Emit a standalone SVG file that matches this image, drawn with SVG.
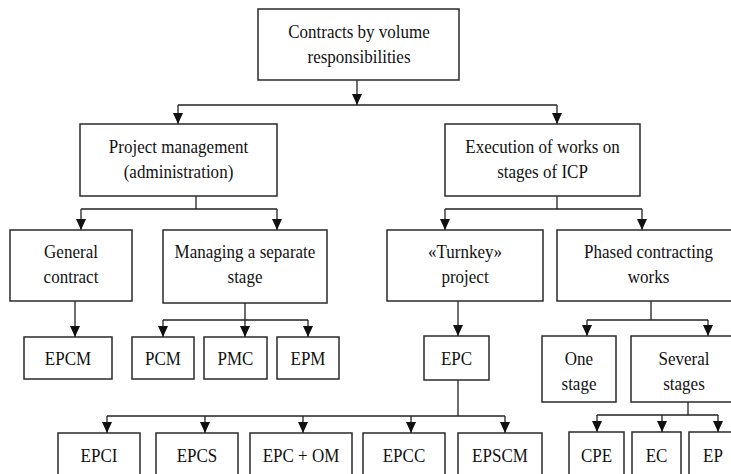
<svg xmlns="http://www.w3.org/2000/svg" width="731" height="474" viewBox="0 0 731 474">
<style>
rect{fill:#fff;stroke:#2a2a2a;stroke-width:1.5}
text{font-family:"Liberation Serif","Times New Roman",serif;font-size:18.5px;fill:#111;text-anchor:middle}
.c{fill:none;stroke:#222;stroke-width:1.3}
.a{fill:none;stroke:#222;stroke-width:1.3;marker-end:url(#ah)}
</style>
<defs>
<marker id="ah" markerUnits="userSpaceOnUse" markerWidth="12" markerHeight="12" refX="11" refY="5.5" orient="auto">
<path d="M0,0.5 L11,5.5 L0,10.5 z" fill="#111"/>
</marker>
</defs>
<rect x="0" y="0" width="731" height="474" style="fill:#fff;stroke:none"/>
<g id="connectors">
<path class="a" d="M357,80 V105"/>
<path class="c" d="M178,105 H557"/>
<path class="a" d="M178,105 V124"/>
<path class="a" d="M557,105 V124"/>
<path class="c" d="M196,196 V209 M81,209 H277"/>
<path class="a" d="M81,209 V230"/>
<path class="a" d="M277,209 V230"/>
<path class="c" d="M557,196 V209 M445,209 H642"/>
<path class="a" d="M445,209 V230"/>
<path class="a" d="M642,209 V230"/>
<path class="a" d="M75,301 V337"/>
<path class="c" d="M245,303 V320 M163,320 H308"/>
<path class="a" d="M163,320 V337"/>
<path class="a" d="M245,320 V337"/>
<path class="a" d="M308,320 V337"/>
<path class="a" d="M458,301 V336"/>
<path class="c" d="M651,301 V320 M587,320 H708"/>
<path class="a" d="M587,320 V336"/>
<path class="a" d="M708,320 V336"/>
<path class="c" d="M458,380 V416 M107,416 H505"/>
<path class="a" d="M107,416 V433"/>
<path class="a" d="M205,416 V433"/>
<path class="a" d="M303,416 V433"/>
<path class="a" d="M411,416 V433"/>
<path class="a" d="M505,416 V433"/>
<path class="c" d="M688,402 V415 M597,415 H718"/>
<path class="a" d="M597,415 V432"/>
<path class="a" d="M662,415 V432"/>
<path class="a" d="M718,415 V432"/>
</g>
<g id="root"><rect x="258" y="9" width="201" height="71"/><text transform="translate(359 38) scale(0.92 1)">Contracts by volume</text><text transform="translate(359 63) scale(0.92 1)">responsibilities</text></g>
<g id="pm"><rect x="80" y="124" width="197" height="72"/><text transform="translate(178.5 153) scale(0.92 1)">Project management</text><text transform="translate(178.5 178) scale(0.92 1)">(administration)</text></g>
<g id="exec"><rect x="445" y="124" width="195" height="72"/><text transform="translate(542.5 153) scale(0.92 1)">Execution of works on</text><text transform="translate(542.5 178) scale(0.92 1)">stages of ICP</text></g>
<g id="general"><rect x="10" y="230" width="122" height="71"/><text transform="translate(71 258) scale(0.92 1)">General</text><text transform="translate(71 283) scale(0.92 1)">contract</text></g>
<g id="managing"><rect x="163" y="230" width="164" height="73"/><text transform="translate(245 258) scale(0.92 1)">Managing a separate</text><text transform="translate(245 283) scale(0.92 1)">stage</text></g>
<g id="turnkey"><rect x="387" y="230" width="156" height="71"/><text transform="translate(465 258) scale(0.92 1)">«Turnkey»</text><text transform="translate(465 283) scale(0.92 1)">project</text></g>
<g id="phased"><rect x="557" y="230" width="183" height="71"/><text transform="translate(648.5 258) scale(0.92 1)">Phased contracting</text><text transform="translate(648.5 283) scale(0.92 1)">works</text></g>
<g id="epcm"><rect x="24" y="337" width="88" height="42"/><text transform="translate(68 365) scale(0.92 1)">EPCM</text></g>
<g id="pcm"><rect x="132" y="337" width="62" height="42"/><text transform="translate(163 365) scale(0.92 1)">PCM</text></g>
<g id="pmc"><rect x="204" y="337" width="63" height="42"/><text transform="translate(235.5 365) scale(0.92 1)">PMC</text></g>
<g id="epm"><rect x="277" y="337" width="62" height="42"/><text transform="translate(308 365) scale(0.92 1)">EPM</text></g>
<g id="epc"><rect x="424" y="336" width="65" height="44"/><text transform="translate(456.5 365) scale(0.92 1)">EPC</text></g>
<g id="one"><rect x="542" y="336" width="74" height="66"/><text transform="translate(579 365) scale(0.92 1)">One</text><text transform="translate(579 390) scale(0.92 1)">stage</text></g>
<g id="several"><rect x="631" y="336" width="106" height="66"/><text transform="translate(684 365) scale(0.92 1)">Several</text><text transform="translate(684 390) scale(0.92 1)">stages</text></g>
<g id="epci"><rect x="58" y="433" width="82" height="50"/><text transform="translate(99 462) scale(0.92 1)">EPCI</text></g>
<g id="epcs"><rect x="156" y="433" width="82" height="50"/><text transform="translate(197 462) scale(0.92 1)">EPCS</text></g>
<g id="epcom"><rect x="250" y="433" width="102" height="50"/><text transform="translate(301 462) scale(0.92 1)">EPC + OM</text></g>
<g id="epcc"><rect x="363" y="433" width="82" height="50"/><text transform="translate(404 462) scale(0.92 1)">EPCC</text></g>
<g id="epscm"><rect x="458" y="433" width="84" height="50"/><text transform="translate(500 462) scale(0.92 1)">EPSCM</text></g>
<g id="cpe"><rect x="569" y="432" width="55" height="50"/><text transform="translate(596.5 462) scale(0.92 1)">CPE</text></g>
<g id="ec"><rect x="632" y="432" width="49" height="50"/><text transform="translate(656.5 462) scale(0.92 1)">EC</text></g>
<g id="ep"><rect x="689" y="432" width="48" height="50"/><text transform="translate(713 462) scale(0.92 1)">EP</text></g>
</svg>
